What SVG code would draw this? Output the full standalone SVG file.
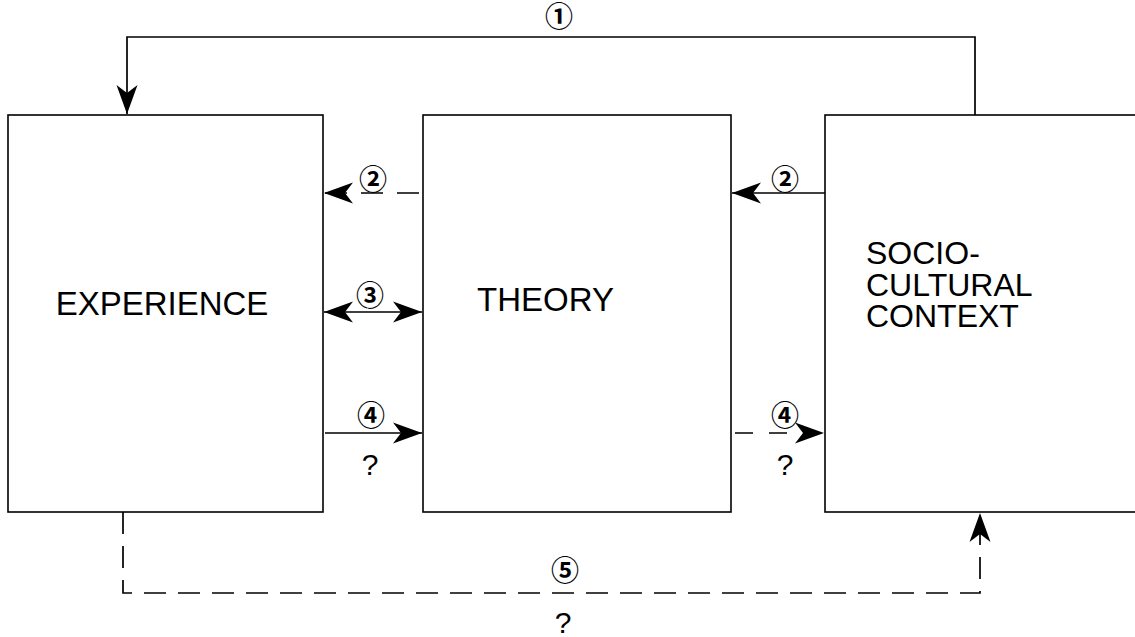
<svg xmlns="http://www.w3.org/2000/svg" width="1135" height="637" viewBox="0 0 1135 637">
<style>
.box{fill:#fff;stroke:#000;stroke-width:1.6}
.ln{fill:none;stroke:#000;stroke-width:1.7}
.dash{stroke-dasharray:22 12}
.lbl{font-family:"Liberation Sans",Arial,sans-serif;font-size:33px;fill:#000}
.soc{font-family:"Liberation Sans",Arial,sans-serif;font-size:32px;fill:#000}
.num{font-family:"DejaVu Serif","Noto Sans CJK JP",serif;font-size:28px;font-weight:bold;fill:#000;text-anchor:middle}
.q{font-family:"Liberation Sans",Arial,sans-serif;font-size:30px;fill:#000;text-anchor:middle}
</style>
<defs>
<marker id="ah" markerUnits="userSpaceOnUse" markerWidth="32" markerHeight="24" viewBox="-30 -12 31 24" refX="0" refY="0" orient="auto-start-reverse">
<path d="M0,0 L-29,-10.5 L-21,0 L-29,10.5 Z" fill="#000"/>
</marker>
</defs>
<rect width="1135" height="637" fill="#fff"/>
<g id="experience">
<rect class="box" x="8" y="115" width="315" height="397"/>
<text class="lbl" x="162" y="315" text-anchor="middle">EXPERIENCE</text>
</g>
<g id="theory">
<rect class="box" x="423" y="115" width="308" height="397"/>
<text class="lbl" x="477" y="311">THEORY</text>
</g>
<g id="sociocultural">
<rect class="box" x="825" y="115" width="320" height="397"/>
<text class="soc" x="866" y="264">SOCIO-</text>
<text class="soc" x="866" y="296">CULTURAL</text>
<text class="soc" x="866" y="327">CONTEXT</text>
</g>
<g id="connectors">
<path class="ln" d="M975,115 V37 H127 V114" stroke-width="2" marker-end="url(#ah)"/>
<path class="ln" d="M419,193 H324" stroke-dasharray="22 14" marker-end="url(#ah)"/>
<path class="ln" d="M825,193 H732" marker-end="url(#ah)"/>
<path class="ln" d="M324,312 H422" marker-start="url(#ah)" marker-end="url(#ah)"/>
<path class="ln" d="M325,433 H422" marker-end="url(#ah)"/>
<path class="ln" d="M735,433 H824" stroke-dasharray="18 16" marker-end="url(#ah)"/>
<path class="ln dash" d="M123,512 V593 H980 V513" marker-end="url(#ah)"/>
</g>
<g id="labels">
<text class="num" x="559" y="27">①</text>
<text class="num" x="373" y="190">②</text>
<text class="num" x="785" y="190">②</text>
<text class="num" x="370" y="306">③</text>
<text class="num" x="371" y="426">④</text>
<text class="num" x="785" y="426">④</text>
<text class="num" x="565" y="581">⑤</text>
<text class="q" x="370" y="475">?</text>
<text class="q" x="785" y="475">?</text>
<text class="q" x="563" y="633">?</text>
</g>
</svg>
